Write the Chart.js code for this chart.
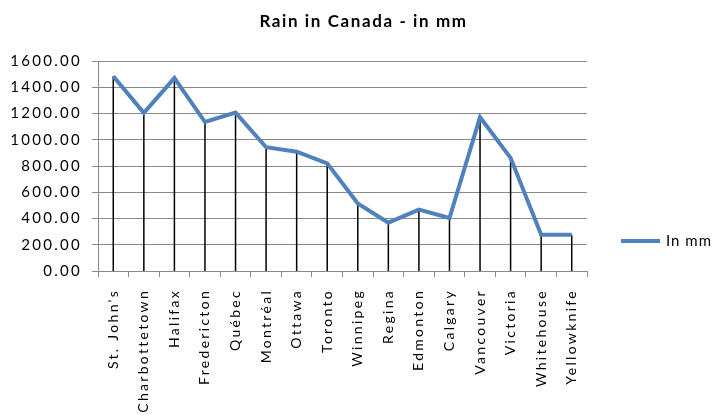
<!DOCTYPE html>
<html>
<head>
<meta charset="utf-8">
<script src="https://cdn.jsdelivr.net/npm/chart.js@4/dist/chart.umd.min.js"></script>
<style>
  html, body { margin: 0; padding: 0; background: #fff; }
  #wrap { width: 715px; height: 419px; }
</style>
</head>
<body>
<div id="wrap"><canvas id="rain"></canvas></div>
<script>
// data
const cities = ["St. John's", 'Charbottetown', 'Halifax', 'Fredericton', 'Québec', 'Montréal',
  'Ottawa', 'Toronto', 'Winnipeg', 'Regina', 'Edmonton', 'Calgary', 'Vancouver',
  'Victoria', 'Whitehouse', 'Yellowknife'];
const rainMm = [1484, 1205, 1470, 1135, 1207, 943, 909, 820, 514, 368, 468, 404, 1172, 862, 276, 276];
const seriesName = 'In mm';
const chartTitle = 'Rain in Canada - in mm';
const yMin = 0, yMax = 1600, yStep = 200;

const FONT = 'Lato, "Open Sans", sans-serif';
const SPACING = '2.3px';
const GRID = '#8a8a8a';
const BLUE = '#4f81bd';

// letter spacing on every text the chart measures / draws
const spacing = {
  id: 'spacing',
  beforeLayout(chart) { chart.ctx.letterSpacing = SPACING; },
  beforeDraw(chart) { chart.ctx.letterSpacing = SPACING; }
};

// black drop lines from each point to the x axis
const dropLines = {
  id: 'dropLines',
  beforeDatasetsDraw(chart) {
    const ctx = chart.ctx;
    const bottom = chart.scales.y.getPixelForValue(yMin);
    ctx.save();
    ctx.strokeStyle = '#000';
    ctx.lineWidth = 1.5;
    chart.getDatasetMeta(0).data.forEach(p => {
      ctx.beginPath();
      ctx.moveTo(p.x, p.y);
      ctx.lineTo(p.x, bottom);
      ctx.stroke();
    });
    ctx.restore();
  }
};

// title over the whole canvas + legend at right
const titleAndLegend = {
  id: 'titleAndLegend',
  afterDraw(chart) {
    const ctx = chart.ctx;
    ctx.save();
    ctx.fillStyle = '#000';
    ctx.letterSpacing = '1.6px';
    ctx.font = 'bold 17px ' + FONT;
    ctx.textAlign = 'center';
    ctx.textBaseline = 'middle';
    ctx.fillText(chartTitle, chart.width / 2 + 6, 22);

    const ds = chart.data.datasets[0];
    const lx = chart.chartArea.right + 34;
    const ly = 241;
    ctx.strokeStyle = ds.borderColor;
    ctx.lineWidth = 4;
    ctx.beginPath();
    ctx.moveTo(lx, ly);
    ctx.lineTo(lx + 39, ly);
    ctx.stroke();
    ctx.letterSpacing = '1px';
    ctx.font = '15px ' + FONT;
    ctx.textAlign = 'left';
    ctx.fillText(ds.label, lx + 45, ly);
    ctx.restore();
  }
};

new Chart(document.getElementById('rain'), {
  type: 'line',
  data: {
    labels: cities,
    datasets: [{
      label: seriesName,
      data: rainMm,
      borderColor: BLUE,
      borderWidth: 4,
      pointRadius: 0,
      tension: 0,
      fill: false
    }]
  },
  options: {
    responsive: true,
    maintainAspectRatio: false,
    animation: false,
    layout: { padding: { left: 0, right: 128, top: 61, bottom: 0 } },
    plugins: {
      legend: { display: false },
      title: { display: false },
      tooltip: { enabled: false }
    },
    scales: {
      x: {
        offset: true,
        grid: { offset: true, drawOnChartArea: false, color: GRID, tickLength: 6 },
        border: { color: GRID },
        ticks: {
          autoSkip: false,
          minRotation: 90,
          maxRotation: 90,
          padding: 12,
          color: '#000',
          font: { family: FONT, size: 14 }
        },
        afterFit(scale) { scale.height = 148; }
      },
      y: {
        min: yMin,
        max: yMax,
        grid: { color: GRID, tickLength: 6 },
        border: { color: GRID },
        ticks: {
          stepSize: yStep,
          padding: 10,
          color: '#000',
          font: { family: FONT, size: 15 },
          callback: v => v.toFixed(2)
        },
        afterFit(scale) { scale.width = 98; }
      }
    }
  },
  plugins: [spacing, dropLines, titleAndLegend]
});
</script>
</body>
</html>
